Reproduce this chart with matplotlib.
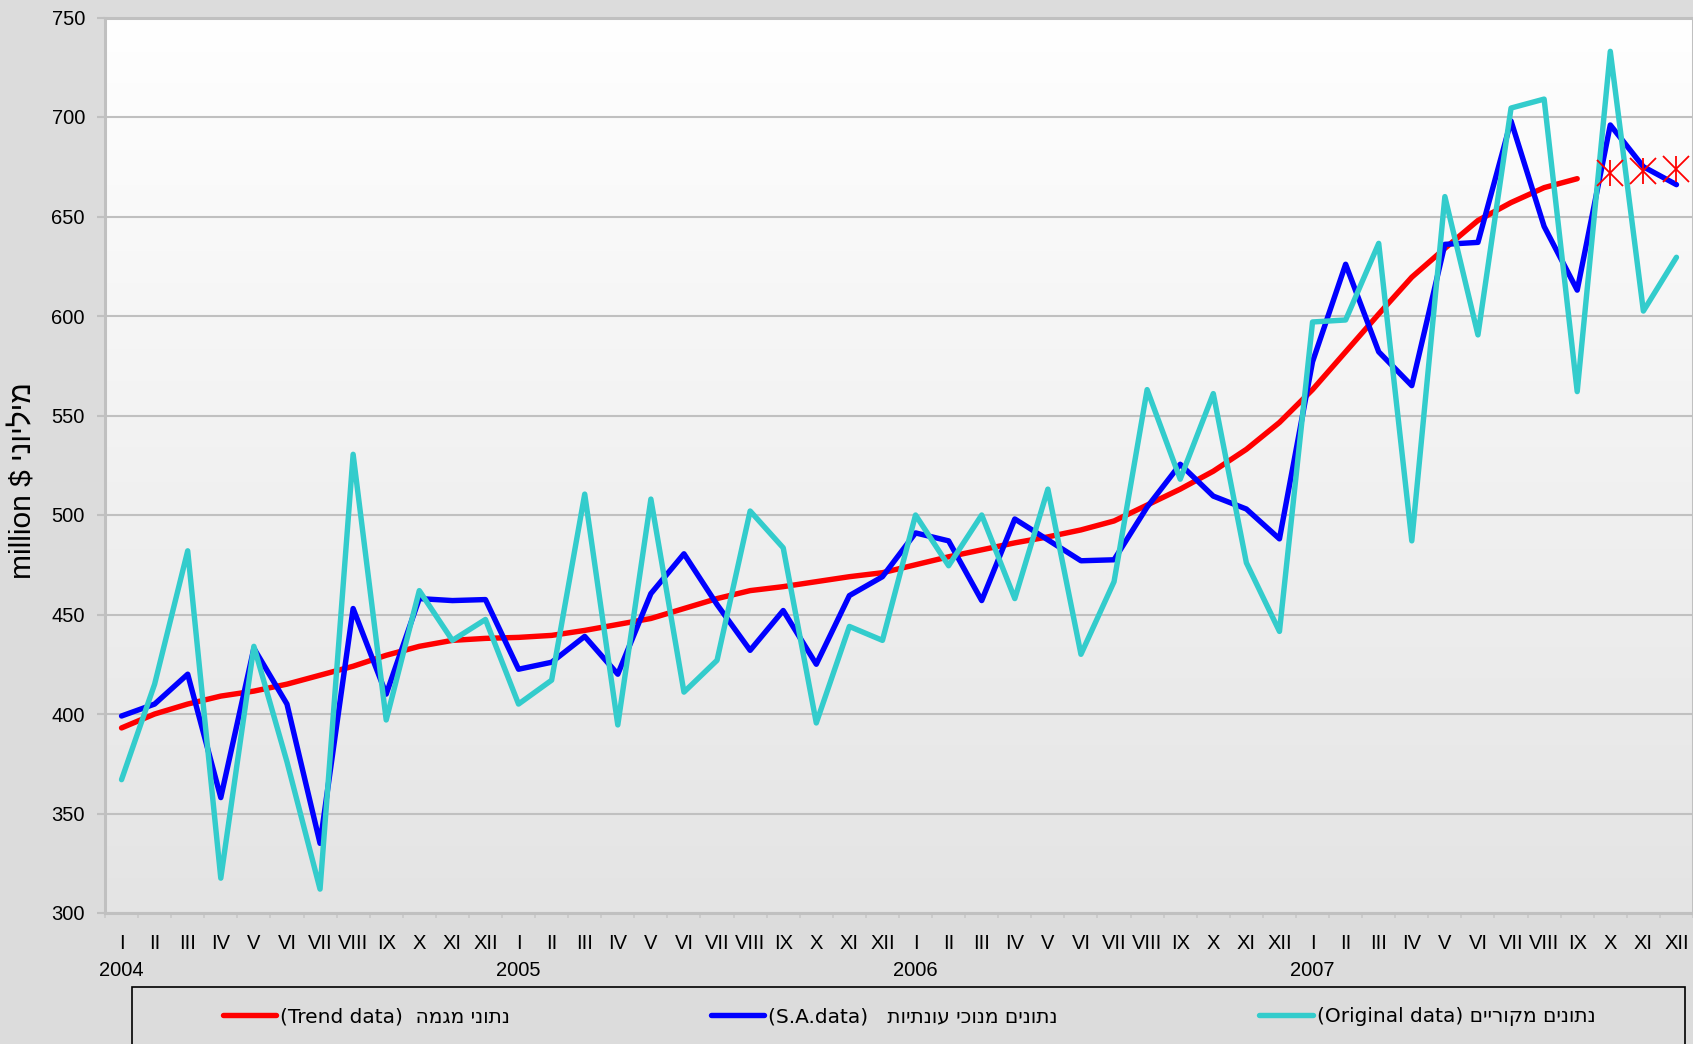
"""
Trend / S.A. / original monthly series, 2004-2007 (million $).
"""

import matplotlib.pyplot as plt
import numpy as np
from matplotlib.colors import LinearSegmentedColormap
from matplotlib.patches import Rectangle

months = ["I", "II", "III", "IV", "V", "VI", "VII", "VIII", "IX", "X", "XI", "XII"]
years = ["2004", "2005", "2006", "2007"]

# trend data runs to IX 2007, the last three months are shown as markers only
trend = [393, 400, 405, 409, 411.5, 415, 419.5, 424, 429.5, 434, 437, 438,
         438.5, 439.5, 442, 445, 448, 453, 458, 462, 464, 466.5, 469, 471,
         475, 479, 482.5, 486, 489, 492.5, 497, 505, 513, 522, 533, 546.5,
         563, 582, 601, 619.5, 634, 648, 657, 664.5, 669]
trend_tail = [672, 673, 674]

sa_data = [399, 405, 420, 358, 433, 405, 335, 453, 410, 458, 457, 457.5,
           422.5, 426, 439, 420, 460.5, 480.5, 455, 432, 452, 425, 459.5, 469,
           491, 487, 457, 498, 487.5, 477, 477.5, 504, 525.5, 509.5, 503, 488,
           577, 626, 582, 565, 636, 637, 698, 645, 613, 696, 675, 666]

original = [367, 415, 482, 317.5, 434, 376, 312, 530.5, 397, 462, 437, 447.5,
            405, 417, 510.5, 394.5, 508, 411, 427, 502, 483.5, 395.5, 444, 437,
            500, 474.5, 500, 458, 513, 430, 466.5, 563, 518, 561, 476, 441.5,
            597, 598, 636.5, 487, 660, 590.5, 704.5, 709, 562, 733, 602.5, 629.5]


def heb(s):
    """matplotlib has no bidi support: give Hebrew in visual order."""
    return s[::-1]


def main():
    W, H = 1693, 1044
    fig = plt.figure(figsize=(W / 100, H / 100), dpi=100)
    fig.patch.set_facecolor("#dcdcdc")

    ax = fig.add_axes([105 / W, 1 - 913 / H, 1 - 105 / W, (913 - 17.5) / H])

    # plot area: white at top fading to light gray
    grad = LinearSegmentedColormap.from_list("bg", ["#ffffff", "#e4e4e4"])
    ax.imshow(np.linspace(0, 1, 256).reshape(-1, 1), cmap=grad, aspect="auto",
              extent=[0, 1, 0, 1], transform=ax.transAxes, zorder=-1)

    n = len(original)
    x = np.arange(n)
    kw = dict(lw=3.9, solid_joinstyle="round", solid_capstyle="round")
    l_tr, = ax.plot(x[:len(trend)], trend, color="#ff0000", **kw)
    l_sa, = ax.plot(x, sa_data, color="#0000ff", **kw)
    l_or, = ax.plot(x, original, color="#33cccc", **kw)
    xt = x[len(trend):]
    ax.plot(xt, trend_tail, ls="none", marker="x", ms=19, mew=1.3, color="#ff0000")
    ax.plot(xt, trend_tail, ls="none", marker="|", ms=19, mew=1.3, color="#ff0000")

    ax.set_xlim(-0.5, n - 0.5)
    ax.set_ylim(300, 750)
    ax.set_yticks(np.arange(300, 751, 50))
    ax.yaxis.grid(True, color="#c0c0c0", lw=1.5)
    ax.set_axisbelow(True)
    for sp in ax.spines.values():
        sp.set_color("#c0c0c0")
        sp.set_linewidth(2.2)

    ax.set_xticks(x)
    ax.set_xticklabels(months * len(years))
    ax.set_xticks(np.arange(-0.5, n, 1), minor=True)
    ax.tick_params(axis="x", which="major", length=0, pad=15)
    ax.tick_params(axis="x", which="minor", length=3.5, width=1.2, color="#c8c8c8")
    ax.tick_params(axis="y", length=5.8, width=1.5, color="#c0c0c0", pad=8.6)
    for lab in ax.get_xticklabels() + ax.get_yticklabels():
        lab.set_family("Liberation Sans")
        lab.set_fontsize(14.5)

    for k, yr in enumerate(years):
        ax.text(12 * k, -0.0637, yr, transform=ax.get_xaxis_transform(),
                ha="center", va="center", fontsize=14.5, family="Liberation Sans")

    fig.text(24 / W, 1 - 481 / H, "million $ " + heb("מיליוני"), rotation=90,
             ha="center", va="center", fontsize=21.5,
             family=["Liberation Sans", "DejaVu Sans"])

    # legend box runs off the bottom of the picture
    fig.add_artist(Rectangle((132 / W, -0.02), (1685 - 132) / W, (H - 987) / H + 0.02,
                             transform=fig.transFigure, fill=False,
                             edgecolor="black", lw=1.2, clip_on=False))
    labels = ["(Trend data)  " + heb("נתוני מגמה"),
              "(S.A.data)   " + heb("נתונים מנוכי עונתיות"),
              "(Original data) " + heb("נתונים מקוריים")]
    ax.legend([l_tr, l_sa, l_or], labels, loc="center",
              bbox_to_anchor=(909 / W, 1 - 1017 / H), bbox_transform=fig.transFigure,
              ncol=3, frameon=False, columnspacing=10, handlelength=2.64,
              handletextpad=0.2, prop=dict(family="DejaVu Sans", size=14.5))

    fig.savefig("out.png", dpi=100, facecolor=fig.get_facecolor())
    plt.close(fig)


if __name__ == "__main__":
    main()
